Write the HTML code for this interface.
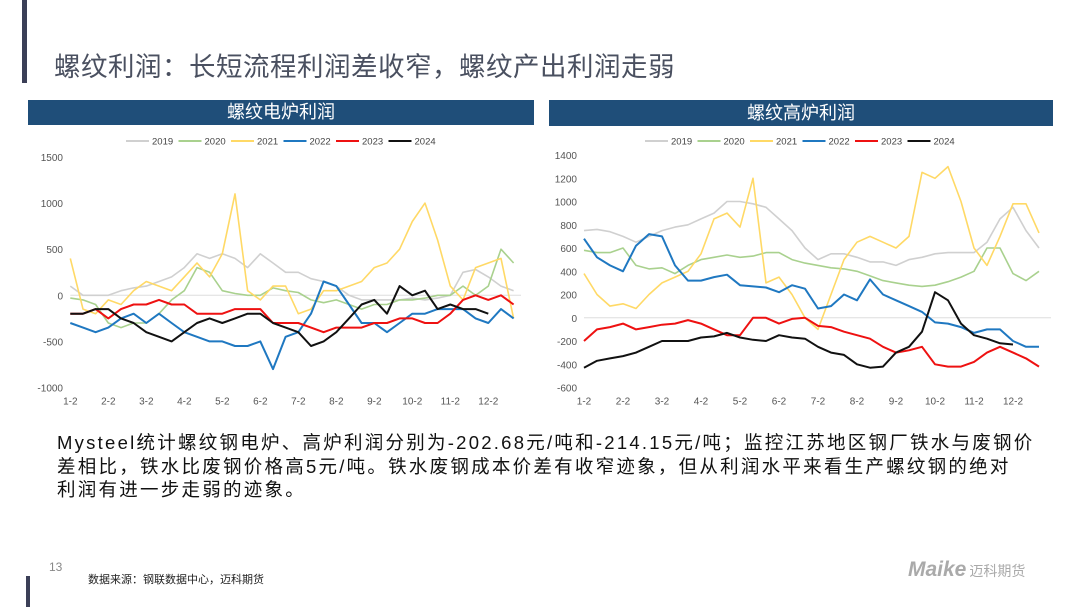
<!DOCTYPE html>
<html><head><meta charset="utf-8">
<style>
body{margin:0;width:1080px;height:607px;background:#fff;overflow:hidden;position:relative;font-family:"Liberation Sans","Noto Sans CJK SC",sans-serif}
.abs{position:absolute}
.ln{white-space:nowrap;display:block}
</style></head><body>
<div class="abs" style="left:22px;top:0;width:5px;height:83px;background:#3b3f57"></div>
<div class="abs" style="left:54px;top:45px;font-size:26.5px;color:#4a5060;letter-spacing:0.5px;white-space:nowrap">螺纹利润：长短流程利润差收窄，螺纹产出利润走弱</div>

<div class="abs" style="left:28px;top:100px;width:506px;height:25px;background:#1f4e79;color:#fff;font-size:18px;text-align:center;line-height:25px">螺纹电炉利润</div>
<div class="abs" style="left:549px;top:100px;width:504px;height:26px;background:#1f4e79;color:#fff;font-size:18px;text-align:center;line-height:26px">螺纹高炉利润</div>

<svg class="abs" style="left:0;top:0" width="1080" height="607" id="charts"></svg>

<div class="abs" style="left:57px;top:431px;font-size:18.5px;line-height:23.5px;color:#111;letter-spacing:2.25px">
<span class="ln">Mysteel统计螺纹钢电炉、高炉利润分别为-202.68元/吨和-214.15元/吨；监控江苏地区钢厂铁水与废钢价</span>
<span class="ln">差相比，铁水比废钢价格高5元/吨。铁水废钢成本价差有收窄迹象，但从利润水平来看生产螺纹钢的绝对</span>
<span class="ln">利润有进一步走弱的迹象。</span>
</div>

<div class="abs" style="left:49px;top:560px;font-size:12px;color:#888">13</div>
<div class="abs" style="left:26px;top:576px;width:4px;height:31px;background:#3b3f57"></div>
<div class="abs" style="left:88px;top:571px;font-size:11px;color:#222">数据来源：钢联数据中心，迈科期货</div>
<div class="abs" style="left:908px;top:558px;font-size:21px;color:#aaa;font-weight:bold;font-style:italic;white-space:nowrap">Maike<span style="font-size:14px;font-style:normal;font-weight:normal;margin-left:3px">迈科期货</span></div>

<script>
const years=['2019','2020','2021','2022','2023','2024'];
const colors=['#d0d0d0','#a9d18e','#ffd966','#1f78c1','#ee1111','#111111'];
const monthLabels=['1-2','2-2','3-2','4-2','5-2','6-2','7-2','8-2','9-2','10-2','11-2','12-2'];
const eafTicks=[1500,1000,500,0,-500,-1000];
const bfTicks=[1400,1200,1000,800,600,400,200,0,-200,-400,-600];
const eaf2019=[100,0,0,0,50,80,100,150,200,300,450,400,450,400,300,450,350,250,250,180,150,100,0,-50,-50,-50,-50,-30,-50,-30,0,250,280,200,100,50];
const eaf2020=[-30,-50,-100,-300,-350,-300,-300,-200,-50,50,300,250,50,20,0,0,80,50,30,-50,-80,-50,-100,-150,-100,-100,-50,-50,-30,0,0,100,0,100,500,350];
const eaf2021=[400,-150,-200,-50,-100,50,150,100,50,200,350,200,450,1100,50,-50,100,100,-200,-150,50,50,100,150,300,350,500,800,1000,600,100,-50,300,350,400,-250];
const eaf2022=[-300,-350,-400,-350,-250,-200,-300,-200,-300,-400,-450,-500,-500,-550,-550,-500,-800,-450,-400,-200,150,100,-100,-300,-300,-400,-300,-200,-200,-150,-150,-150,-250,-300,-150,-250];
const eaf2023=[-200,-200,-150,-250,-150,-100,-100,-50,-100,-100,-200,-200,-200,-150,-150,-150,-300,-300,-300,-350,-400,-350,-350,-350,-300,-300,-250,-250,-300,-300,-200,-50,0,-50,0,-100];
const eaf2024=[-200,-200,-150,-150,-250,-300,-400,-450,-500,-400,-300,-250,-300,-250,-200,-200,-300,-350,-400,-550,-500,-400,-250,-100,-50,-200,100,0,50,-150,-100,-150,-150,-200];
const bf2019=[750,760,740,700,650,700,750,780,800,850,900,1000,1000,980,950,850,750,600,500,550,550,520,480,480,450,500,520,550,560,560,560,650,850,950,750,600];
const bf2020=[580,560,560,600,450,420,430,380,450,500,520,540,520,530,560,560,500,470,450,430,420,400,360,320,300,280,270,280,310,350,400,600,600,380,320,400];
const bf2021=[380,200,100,120,80,200,300,350,400,550,850,900,780,1200,300,350,200,0,-100,200,500,650,700,650,600,700,1250,1200,1300,1000,600,450,700,980,980,730];
const bf2022=[680,520,450,400,620,720,700,450,320,320,350,370,280,270,260,220,280,250,80,100,200,150,330,200,150,100,50,-40,-50,-80,-130,-100,-100,-200,-250,-250];
const bf2023=[-200,-100,-80,-50,-100,-80,-60,-50,-20,-50,-100,-150,-150,0,0,-50,-10,0,-70,-80,-120,-150,-180,-250,-300,-280,-250,-400,-420,-420,-380,-300,-250,-300,-350,-420];
const bf2024=[-430,-370,-350,-330,-300,-250,-200,-200,-200,-170,-160,-130,-170,-190,-200,-150,-170,-180,-250,-300,-320,-400,-430,-420,-300,-250,-120,220,150,-50,-150,-180,-220,-230];

const svg=document.getElementById('charts');
const NS='http://www.w3.org/2000/svg';
function mk(tag,attrs){const e=document.createElementNS(NS,tag);for(const k in attrs)e.setAttribute(k,attrs[k]);svg.appendChild(e);return e;}

function drawChart(cfg){
  const {x0,monthW,yTop,yBot,vTop,vBot,ticks,series,tickX,legendX,legendY,xRight,prefix}=cfg;
  const sx=m=>x0+m*monthW;
  const sy=v=>yTop+(vTop-v)/(vTop-vBot)*(yBot-yTop);
  ticks.forEach(t=>{
    const tx=mk('text',{x:tickX,y:sy(t)+4,'text-anchor':'end','font-size':'10','fill':'#555','font-family':'Liberation Sans, sans-serif'});
    tx.textContent=t;
    
    
  });
  const zl=mk('line',{x1:x0,x2:xRight,y1:sy(0),y2:sy(0),stroke:'#ddd','stroke-width':1});
  
  
  monthLabels.forEach((l,i)=>{
    const tx=mk('text',{x:sx(i),y:yBot+17,'text-anchor':'middle','font-size':'10','fill':'#555','font-family':'Liberation Sans, sans-serif'});
    tx.textContent=l;
    
    
  });
  series.forEach((vals,s)=>{
    const pts=vals.map((v,i)=>sx(i/3).toFixed(1)+','+sy(v).toFixed(1)).join(' ');
    const pl=mk('polyline',{points:pts,fill:'none',stroke:colors[s],'stroke-width':s>=3?2:1.6,'stroke-linejoin':'round'});
    
    
  });
  let lx=legendX;
  years.forEach((y,s)=>{
    const ln=mk('line',{x1:lx,x2:lx+23,y1:legendY,y2:legendY,stroke:colors[s],'stroke-width':2});
    
    
    const tx=mk('text',{x:lx+26,y:legendY+3.5,'font-size':'9.5','fill':'#444','font-family':'Liberation Sans, sans-serif'});
    tx.textContent=y;
    
    
    lx+=52.5;
  });
}
drawChart({prefix:'eaf',x0:70.3,monthW:38,yTop:157,yBot:387.5,vTop:1500,vBot:-1000,ticks:eafTicks,
  series:[eaf2019,eaf2020,eaf2021,eaf2022,eaf2023,eaf2024],tickX:63,legendX:126,legendY:141,xRight:521});
drawChart({prefix:'bf',x0:584,monthW:39,yTop:155,yBot:387.5,vTop:1400,vBot:-600,ticks:bfTicks,
  series:[bf2019,bf2020,bf2021,bf2022,bf2023,bf2024],tickX:577,legendX:645,legendY:141,xRight:1051});
</script>
</body></html>
